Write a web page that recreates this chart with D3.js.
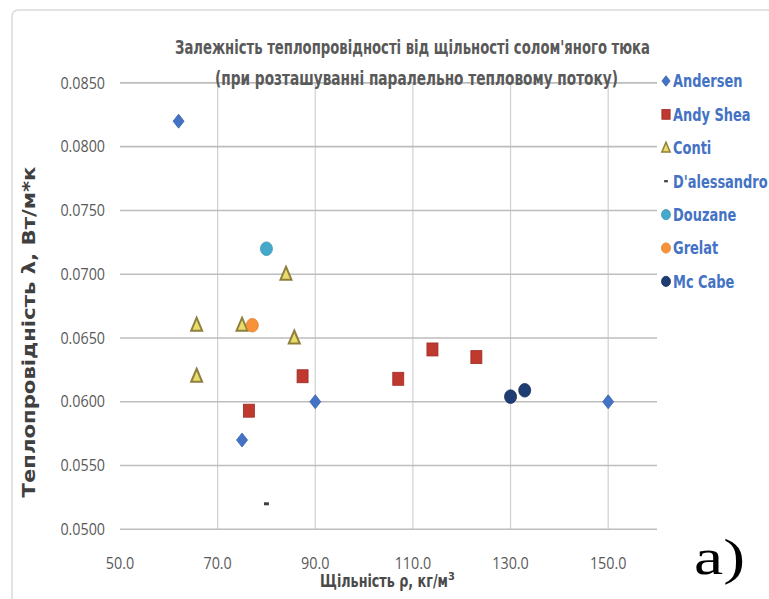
<!DOCTYPE html>
<html>
<head>
<meta charset="utf-8">
<script src="https://cdn.jsdelivr.net/npm/d3@7"></script>
<style>
  html, body { margin: 0; padding: 0; background: #fff; }
  svg { display: block; }
</style>
</head>
<body>
<svg id="chart" width="769" height="599"></svg>
<script>
// Series (density kg/m3, conductivity W/m*K)
const andersenX = [62, 75, 90, 150];
const andersenY = [0.0820, 0.0570, 0.0600, 0.0600];
const andySheaX = [76.4, 87.4, 107, 114, 123];
const andySheaY = [0.0593, 0.0620, 0.0618, 0.0641, 0.0635];
const contiX = [65.7, 65.7, 75, 84, 85.7];
const contiY = [0.0660, 0.0620, 0.0660, 0.0700, 0.0650];
const dalessandroX = [80];
const dalessandroY = [0.0520];
const douzaneX = [80];
const douzaneY = [0.0720];
const grelatX = [77.1];
const grelatY = [0.0660];
const mcCabeX = [130, 132.9];
const mcCabeY = [0.0604, 0.0609];

const xTicks = [50, 70, 90, 110, 130, 150];
const yTicks = [0.050, 0.055, 0.060, 0.065, 0.070, 0.075, 0.080, 0.085];

const titleLines = [
  'Залежність теплопровідності від щільності солом\'яного тюка',
  '(при розташуванні паралельно тепловому потоку)'
];
const xTitle = 'Щільність ρ, кг/м';
const yTitle = 'Теплопровідність λ, Вт/м*к';

const series = [
  { name: 'Andersen', xs: andersenX, ys: andersenY, shape: 'diamond', fill: '#4472c4', stroke: '#3a63a8' },
  { name: 'Andy Shea', xs: andySheaX, ys: andySheaY, shape: 'square', fill: '#c0392f', stroke: '#9e2b24' },
  { name: 'Conti', xs: contiX, ys: contiY, shape: 'triangle', fill: '#e8dc6a', stroke: '#8f7f3c' },
  { name: "D'alessandro", xs: dalessandroX, ys: dalessandroY, shape: 'dash', fill: '#404040', stroke: '#404040' },
  { name: 'Douzane', xs: douzaneX, ys: douzaneY, shape: 'circle', fill: '#45a9cc', stroke: '#3b95b5' },
  { name: 'Grelat', xs: grelatX, ys: grelatY, shape: 'circle', fill: '#f7923a', stroke: '#e07f2c' },
  { name: 'Mc Cabe', xs: mcCabeX, ys: mcCabeY, shape: 'circle', fill: '#1f3d73', stroke: '#182f5a' }
];

const svg = d3.select('#chart');
const W = 769, H = 599;

// narrow-font widths (Calibri-like), em units
const narrowW = ch => ch === '.' ? 0.252 : 0.507;
const numWidth = (s, size) => s.split('').reduce((a, c) => a + narrowW(c), 0) * size;

// frame
svg.append('rect')
  .attr('x', 12).attr('y', 10).attr('width', W).attr('height', H)
  .attr('rx', 6)
  .attr('fill', '#fff').attr('stroke', '#d9d9d9').attr('stroke-width', 1.5);

const x = d3.scaleLinear().domain([50, 160]).range([120, 657]);
const y = d3.scaleLinear().domain([0.050, 0.085]).range([529.3, 82.9]);

const grid = svg.append('g');

// vertical gridlines (no line at 50)
grid.selectAll('line.v')
  .data(xTicks.filter(d => d > 50))
  .join('line')
  .attr('x1', d => x(d)).attr('x2', d => x(d))
  .attr('y1', y(0.085)).attr('y2', y(0.050))
  .attr('stroke', '#d0d0d0').attr('stroke-width', 1.2);

// horizontal gridlines
grid.selectAll('line.h')
  .data(yTicks)
  .join('line')
  .attr('x1', x(50)).attr('x2', x(160))
  .attr('y1', d => y(d)).attr('y2', d => y(d))
  .attr('stroke', '#bdbdbd').attr('stroke-width', 1.6);

// tick labels
const tickFont = '"Open Sans", "Liberation Sans", sans-serif';
const tickSize = 16;
svg.append('g').selectAll('text')
  .data(yTicks)
  .join('text')
  .attr('x', 105).attr('y', d => y(d))
  .attr('dy', '0.35em')
  .attr('text-anchor', 'end')
  .attr('font-family', tickFont).attr('font-size', tickSize)
  .attr('fill', '#595959')
  .attr('textLength', d => numWidth(d3.format('.4f')(d), tickSize))
  .attr('lengthAdjust', 'spacingAndGlyphs')
  .text(d => d3.format('.4f')(d));

svg.append('g').selectAll('text')
  .data(xTicks)
  .join('text')
  .attr('x', d => x(d)).attr('y', 563)
  .attr('dy', '0.35em')
  .attr('text-anchor', 'middle')
  .attr('font-family', tickFont).attr('font-size', tickSize)
  .attr('fill', '#595959')
  .attr('textLength', d => numWidth(d3.format('.1f')(d), tickSize))
  .attr('lengthAdjust', 'spacingAndGlyphs')
  .text(d => d3.format('.1f')(d));

// titles
const boldFont = '"DejaVu Sans Condensed", "Open Sans", sans-serif';
const titleSpans = [[175, 650, 47], [215, 618, 78]];
titleLines.forEach((t, i) => {
  const [a, b, ty] = titleSpans[i];
  svg.append('text')
    .attr('x', a).attr('y', ty).attr('dy', '0.35em')
    .attr('textLength', b - a).attr('lengthAdjust', 'spacingAndGlyphs')
    .attr('font-family', boldFont).attr('font-weight', 'bold').attr('font-size', 20)
    .attr('fill', '#595959')
    .text(t);
});

const xt = svg.append('text')
  .attr('x', 320).attr('y', 581).attr('dy', '0.35em')
  .attr('font-family', boldFont).attr('font-weight', 'bold').attr('font-size', 18)
  .attr('fill', '#4a4a4a');
xt.append('tspan').attr('textLength', 128).attr('lengthAdjust', 'spacingAndGlyphs').text(xTitle);
xt.append('tspan').attr('font-size', 11).attr('dy', -7).text('3');

svg.append('text')
  .attr('transform', 'translate(29,332) rotate(-90)')
  .attr('dy', '0.35em')
  .attr('text-anchor', 'middle')
  .attr('textLength', 331).attr('lengthAdjust', 'spacingAndGlyphs')
  .attr('font-family', '"DejaVu Sans", Verdana, sans-serif').attr('font-weight', 'bold').attr('font-size', 17)
  .attr('fill', '#404040')
  .text(yTitle);

// "a)" label
svg.append('text')
  .attr('x', 694).attr('y', 574)
  .attr('textLength', 51).attr('lengthAdjust', 'spacingAndGlyphs')
  .attr('font-family', '"Liberation Serif", "Times New Roman", serif').attr('font-size', 50)
  .attr('fill', '#000')
  .text('а)');

// markers
function drawMarker(g, s, cx, cy, k) {
  if (s.shape === 'diamond') {
    g.append('path')
      .attr('d', `M${cx},${cy - 7 * k}L${cx + 5.5 * k},${cy}L${cx},${cy + 7 * k}L${cx - 5.5 * k},${cy}Z`)
      .attr('fill', s.fill).attr('stroke', s.stroke).attr('stroke-width', 0.8);
  } else if (s.shape === 'square') {
    g.append('rect')
      .attr('x', cx - 5.5 * k).attr('y', cy - 6.5 * k)
      .attr('width', 11 * k).attr('height', 13 * k)
      .attr('fill', s.fill).attr('stroke', s.stroke).attr('stroke-width', 0.8);
  } else if (s.shape === 'triangle') {
    g.append('path')
      .attr('d', `M${cx},${cy - 7.5 * k}L${cx + 5.5 * k},${cy + 5.5 * k}L${cx - 5.5 * k},${cy + 5.5 * k}Z`)
      .attr('fill', s.fill).attr('stroke', s.stroke).attr('stroke-width', 2 * k);
  } else if (s.shape === 'dash') {
    g.append('rect')
      .attr('x', cx - 2.5 * k).attr('y', cy - 1.5 * k)
      .attr('width', 5 * k).attr('height', 3 * k)
      .attr('fill', s.fill);
  } else {
    g.append('ellipse')
      .attr('cx', cx).attr('cy', cy)
      .attr('rx', 6 * k).attr('ry', 6.8 * k)
      .attr('fill', s.fill).attr('stroke', s.stroke).attr('stroke-width', 0.8);
  }
}

const pts = svg.append('g');
series.forEach(s => {
  s.xs.forEach((xv, i) => drawMarker(pts, s, x(xv), y(s.ys[i]), 1));
});

// legend: condensed to the narrow look of the original
const legend = svg.append('g');
series.forEach((s, i) => {
  const ly = 81 + i * 33.4;
  drawMarker(legend, s, 666, ly, 0.75);
  const t = legend.append('text')
    .attr('x', 673).attr('y', ly).attr('dy', '0.35em')
    .attr('font-family', boldFont).attr('font-weight', 'bold').attr('font-size', 18)
    .attr('fill', '#4472c4')
    .text(s.name);
  const len = t.node().getComputedTextLength();
  t.attr('textLength', len * 0.8).attr('lengthAdjust', 'spacingAndGlyphs');
});
</script>
</body>
</html>
